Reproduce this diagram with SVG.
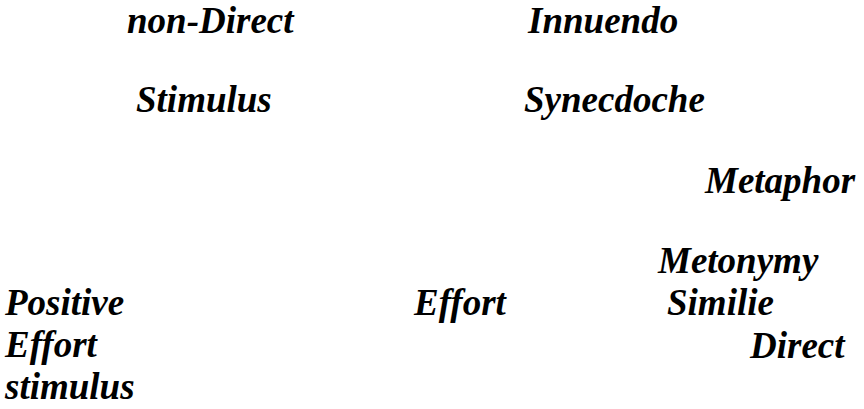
<svg xmlns="http://www.w3.org/2000/svg" width="864" height="409" viewBox="0 0 864 409">
<style>
text { font-family: "Liberation Serif", "Times New Roman", serif; font-weight: bold; font-style: italic; font-size: 37px; fill: #000; }
</style>
<rect width="864" height="409" fill="#fff"/>
<g id="node-nondirect"><text x="127" y="33">non-Direct</text></g>
<g id="node-innuendo"><text x="528" y="33">Innuendo</text></g>
<g id="node-stimulus"><text x="136" y="112">Stimulus</text></g>
<g id="node-synecdoche"><text x="524" y="112">Synecdoche</text></g>
<g id="node-metaphor"><text x="705" y="193">Metaphor</text></g>
<g id="node-metonymy"><text x="658" y="273">Metonymy</text></g>
<g id="node-positive"><text x="5" y="315">Positive<tspan x="5" dy="42">Effort</tspan><tspan x="5" dy="42">stimulus</tspan></text></g>
<g id="node-effort"><text x="414" y="315">Effort</text></g>
<g id="node-similie"><text x="667" y="315">Similie</text></g>
<g id="node-direct"><text x="750" y="358">Direct</text></g>
<g id="connectors"></g>
</svg>
